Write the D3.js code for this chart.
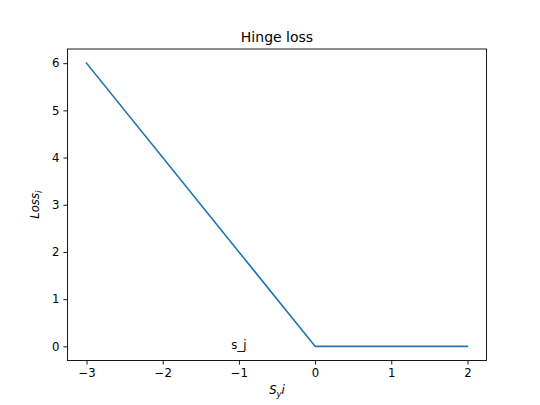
<!DOCTYPE html>
<html><head><meta charset="utf-8">
<script src="https://cdn.jsdelivr.net/npm/d3@7"></script>
<style>body{margin:0;background:#fff}svg{display:block;font-family:"DejaVu Sans",sans-serif}</style>
</head><body><svg id="c" width="540" height="405"></svg>
<script>
const xs = [-3, -2, -1, 0, 1, 2];
const losses = [6, 4, 2, 0, 0, 0];
const xTicks = [-3, -2, -1, 0, 1, 2];
const yTicks = [0, 1, 2, 3, 4, 5, 6];
const titleText = "Hinge loss";
const annotation = {x: -1.1, y: 0, text: "s_j"};

const svg = d3.select("#c");
const L = 67.5, R = 486.5, T = 49, B = 360.5;
const x = d3.scaleLinear().domain([-3.25, 2.25]).range([L, R]);
const y = d3.scaleLinear().domain([-0.3, 6.3]).range([B, T]);

const line = d3.line().x((d,i)=>x(xs[i])).y(d=>y(d));
svg.append("path").datum(losses).attr("d", line)
  .attr("fill","none").attr("stroke","#1f77b4").attr("stroke-width",1.6)
  .attr("stroke-linejoin","round").attr("stroke-linecap","square");

const xa = svg.append("g").attr("transform",`translate(0,${B})`)
  .call(d3.axisBottom(x).tickValues(xTicks).tickSize(4.1).tickPadding(4).tickFormat(d=>d<0?"\u2212"+Math.abs(d):d));
const ya = svg.append("g").attr("transform",`translate(${L},0)`)
  .call(d3.axisLeft(y).tickValues(yTicks).tickSize(4.1).tickPadding(4).tickFormat(d3.format("d")));
[xa, ya].forEach(a=>{
  a.select(".domain").remove();
  a.selectAll("line").attr("stroke","#000").attr("stroke-width",0.9);
  a.selectAll("text").attr("font-size",11.7).attr("fill","#000").attr("font-family","DejaVu Sans");
});
svg.append("rect").attr("x",L).attr("y",T).attr("width",R-L).attr("height",B-T)
  .attr("fill","none").attr("stroke","#000").attr("stroke-width",0.9);

svg.append("text").attr("x",(L+R)/2).attr("y",42).attr("text-anchor","middle")
  .attr("font-size",14).text(titleText);

svg.append("text").attr("x",x(annotation.x)).attr("y",y(annotation.y)+3).attr("font-size",11.7)
  .text(annotation.text);

// x label S_y i
const xl = svg.append("text").attr("x",(L+R)/2).attr("y",394).attr("text-anchor","middle")
  .attr("font-size",11.7).attr("font-style","italic");
xl.append("tspan").text("S");
xl.append("tspan").attr("font-size",8.5).attr("dy",2.5).text("y");
xl.append("tspan").attr("dy",-2.5).text("i");

// y label Loss_i
const yl = svg.append("text").attr("transform",`translate(39,${(T+B)/2}) rotate(-90)`)
  .attr("text-anchor","middle").attr("font-size",11.7).attr("font-style","italic");
yl.append("tspan").text("Loss");
yl.append("tspan").attr("font-size",8.5).attr("dy",2.5).text("i");
</script></body></html>
